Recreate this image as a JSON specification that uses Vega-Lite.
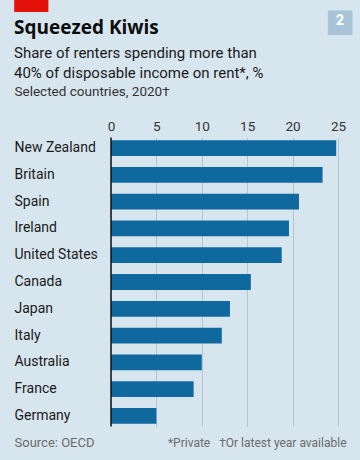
{
  "$schema": "https://vega.github.io/schema/vega-lite/v6.json",
  "autosize": {"type": "none"},
  "width": 227,
  "height": 289,
  "padding": {"left": 111, "top": 137.5, "right": 22, "bottom": 33.5},
  "background": "#d7e5ee",
  "config": {"view": {"stroke": null}, "font": "Roboto"},
  "title": {
    "text": "Squeezed Kiwis",
    "subtitle": ["Share of renters spending more than", "40% of disposable income on rent*, %"],
    "anchor": "start",
    "frame": "group",
    "dx": -97,
    "dy": 136,
    "font": "Open Sans",
    "fontSize": 19,
    "fontWeight": "bold",
    "color": "#0d0d0d",
    "subtitleFont": "Roboto",
    "subtitleFontSize": 15,
    "subtitleColor": "#1a1a1a",
    "subtitleLineHeight": 20.5,
    "subtitlePadding": 8,
    "offset": 8
  },
  "data": {
    "values": [
      {"country": "New Zealand", "share": 24.8},
      {"country": "Britain", "share": 23.3},
      {"country": "Spain", "share": 20.7},
      {"country": "Ireland", "share": 19.6},
      {"country": "United States", "share": 18.8},
      {"country": "Canada", "share": 15.4},
      {"country": "Japan", "share": 13.1},
      {"country": "Italy", "share": 12.2},
      {"country": "Australia", "share": 10.0},
      {"country": "France", "share": 9.1},
      {"country": "Germany", "share": 5.0}
    ]
  },
  "layer": [
    {
      "mark": {"type": "bar", "color": "#10699e"},
      "encoding": {
        "y": {
          "field": "country", "type": "nominal", "sort": null,
          "scale": {"paddingInner": 0.41, "paddingOuter": 0.1},
          "axis": {
            "orient": "left", "domain": false, "ticks": false, "tickSize": 0,
            "labelAlign": "left", "labelPadding": 97, "labelFontSize": 14,
            "labelColor": "#1a1a1a", "labelFont": "Roboto",
            "title": "Source: OECD", "titleAngle": 0, "titleAlign": "left",
            "titleBaseline": "alphabetic", "titleX": -97, "titleY": 308.5,
            "titleFontSize": 13, "titleFontWeight": "normal", "titleFont": "Roboto",
            "titleColor": "#6b6b6b"
          }
        },
        "x": {
          "field": "share", "type": "quantitative",
          "scale": {"domain": [0, 25], "nice": false},
          "axis": {
            "orient": "top", "values": [0, 5, 10, 15, 20, 25], "labelFlush": false,
            "domain": false, "ticks": false, "tickSize": 0, "labelPadding": 4,
            "labelFontSize": 13.5, "labelColor": "#333333", "labelFont": "Roboto",
            "grid": true, "gridColor": "#b5c5d0", "gridWidth": 1,
            "title": "Selected countries, 2020†", "titleAnchor": "start",
            "titleAlign": "left", "titleBaseline": "alphabetic",
            "titleX": -97, "titleY": -42.5, "titleFontSize": 13.5,
            "titleFontWeight": "normal", "titleFont": "Roboto", "titleColor": "#333333"
          }
        }
      }
    },
    {
      "data": {"values": [{"zero": 0}]},
      "mark": {"type": "rule", "color": "#111111", "strokeWidth": 1.5},
      "encoding": {
        "x": {
          "field": "zero", "type": "quantitative",
          "axis": {
            "orient": "bottom", "labels": false, "ticks": false, "domain": false, "grid": false,
            "title": "*Private\u00a0\u00a0\u00a0†Or latest year available",
            "titleAlign": "right", "titleBaseline": "alphabetic",
            "titleX": 235, "titleY": 19.5, "titleFontSize": 12,
            "titleFontWeight": "normal", "titleFont": "Roboto", "titleColor": "#6b6b6b"
          }
        }
      }
    },
    {
      "mark": {"type": "bar", "opacity": 0},
      "encoding": {
        "y": {
          "field": "country", "type": "nominal", "sort": null,
          "axis": {
            "orient": "right", "labels": false, "ticks": false, "domain": false, "grid": false,
            "title": "█", "titleAngle": 0, "titleAlign": "left", "titleBaseline": "alphabetic",
            "titleX": -324, "titleY": -140.5, "titleFont": "DejaVu Sans Mono",
            "titleFontSize": 55, "titleFontWeight": "normal", "titleColor": "#e3120b"
          }
        },
        "x": {
          "field": "share", "type": "quantitative",
          "axis": {
            "orient": "top", "labels": false, "ticks": false, "domain": false, "grid": false,
            "title": "■", "titleAngle": 0, "titleAlign": "center", "titleBaseline": "middle",
            "titleX": 228.5, "titleY": -117, "titleFont": "DejaVu Sans",
            "titleFontSize": 32, "titleFontWeight": "normal", "titleColor": "#a9c4d6"
          }
        }
      }
    },
    {
      "mark": {"type": "bar", "opacity": 0},
      "encoding": {
        "y": {
          "field": "country", "type": "nominal", "sort": null,
          "axis": {
            "orient": "left", "labels": false, "ticks": false, "domain": false, "grid": false,
            "title": "2", "titleAngle": 0, "titleAlign": "center", "titleBaseline": "middle",
            "titleX": 228.5, "titleY": -117, "titleFont": "Roboto",
            "titleFontSize": 14, "titleFontWeight": "bold", "titleColor": "#ffffff"
          }
        },
        "x": {"field": "share", "type": "quantitative", "axis": null}
      }
    }
  ]
}
